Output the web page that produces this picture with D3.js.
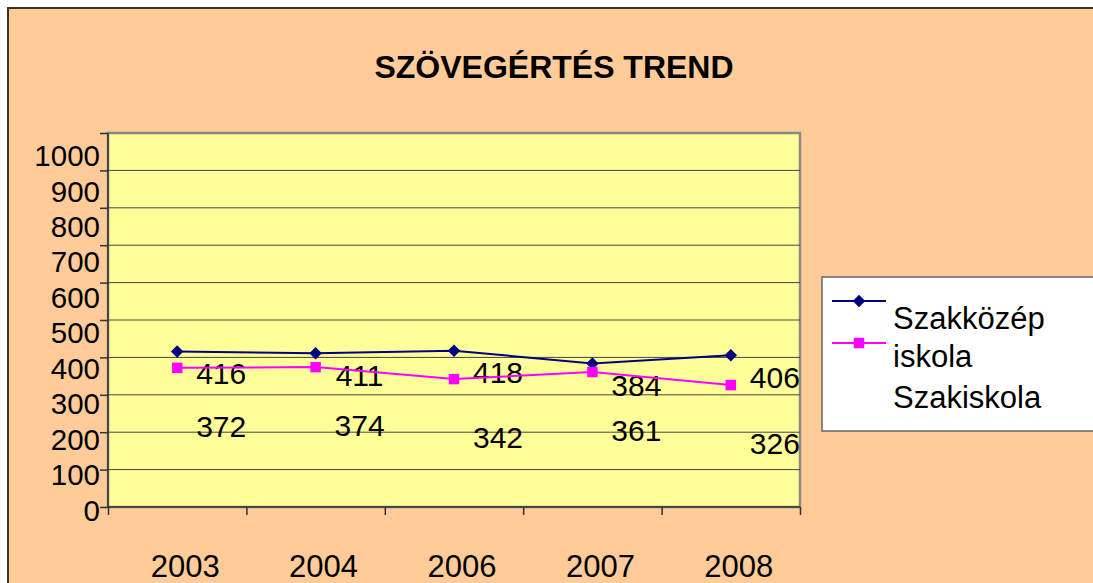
<!DOCTYPE html>
<html lang="hu">
<head>
<meta charset="UTF-8">
<title>Szövegértés trend</title>
<script src="https://d3js.org/d3.v7.min.js"></script>
<style>
  body { margin: 0; background: #fff; }
  text { font-family: "Liberation Sans", Arial, sans-serif; fill: #000; }
</style>
</head>
<body>
<svg width="1093" height="583"></svg>
<script>
// chart data
const years = ["2003", "2004", "2006", "2007", "2008"];
const szakkozep = [416, 411, 418, 384, 406];
const szakiskola = [372, 374, 342, 361, 326];
const yTicks = [0, 100, 200, 300, 400, 500, 600, 700, 800, 900, 1000];
const seriesNames = ["Szakközép iskola", "Szakiskola"];

const svg = d3.select("svg");

// outer chart area (peach) with dark frame
svg.append("rect")
  .attr("x", 8).attr("y", 8)
  .attr("width", 1100).attr("height", 600)
  .attr("fill", "#FFCC99")
  .attr("stroke", "#333").attr("stroke-width", 2);

// title
svg.append("text")
  .attr("x", 554).attr("y", 78)
  .attr("text-anchor", "middle")
  .style("font-size", "32px").style("font-weight", "bold")
  .text("SZÖVEGÉRTÉS TREND");

// scales
const plot = { left: 108, right: 800, top: 133, bottom: 507 };
const x = d3.scaleBand().domain(years).range([plot.left, plot.right]);
const y = d3.scaleLinear().domain([0, 1000]).range([plot.bottom, plot.top]);
// the tick labels in the original sit a bit squeezed compared to the gridlines
const yLab = d3.scaleLinear().domain([0, 1000]).range([510, 155.5]);

// plot area
svg.append("rect")
  .attr("x", plot.left).attr("y", plot.top)
  .attr("width", plot.right - plot.left).attr("height", plot.bottom - plot.top)
  .attr("fill", "#FFFF99")
  .attr("stroke", "#888").attr("stroke-width", 2.5);

// gridlines
svg.append("g")
  .selectAll("line")
  .data(yTicks.filter(d => d > 0 && d < 1000))
  .join("line")
  .attr("x1", plot.left).attr("x2", plot.right)
  .attr("y1", d => y(d)).attr("y2", d => y(d))
  .attr("stroke", "#444").attr("stroke-width", 1);

// y axis line + tick marks
const yAxis = svg.append("g")
  .attr("transform", `translate(${plot.left},0)`)
  .call(d3.axisLeft(y).tickValues(yTicks).tickSize(8).tickFormat(""));
yAxis.selectAll("path, line").attr("stroke", "#333").attr("stroke-width", 1.5);
yAxis.select(".domain").attr("d", `M0,${plot.top}V${plot.bottom}`);

// y tick labels
svg.append("g")
  .selectAll("text")
  .data(yTicks)
  .join("text")
  .attr("x", 100)
  .attr("y", d => yLab(d))
  .attr("dy", "0.36em")
  .attr("text-anchor", "end")
  .style("font-size", "29.5px")
  .text(d => d);

// x axis with ticks on band edges
const xEdges = d3.scaleLinear().domain([0, years.length]).range([plot.left, plot.right]);
const xAxis = svg.append("g")
  .attr("transform", `translate(0,${plot.bottom})`)
  .call(d3.axisBottom(xEdges).tickValues(d3.range(years.length + 1)).tickSize(8).tickFormat(""));
xAxis.selectAll("path, line").attr("stroke", "#333").attr("stroke-width", 1.5);
xAxis.select(".domain").attr("d", `M${plot.left},0H${plot.right}`);

svg.append("g")
  .selectAll("text")
  .data(years)
  .join("text")
  .attr("x", d => x(d) + x.bandwidth() / 2 + 8)
  .attr("y", 577)
  .attr("text-anchor", "middle")
  .style("font-size", "31px")
  .text(d => d);

// series (diamond = square turned 45deg, like Excel's marker)
const series = [
  { name: seriesNames[0], values: szakkozep, color: "#000080", size: 78, rot: 45, labelDy: 22 },
  { name: seriesNames[1], values: szakiskola, color: "#FF00FF", size: 110, rot: 0, labelDy: 58 }
];
const cx = i => x(years[i]) + x.bandwidth() / 2;

const line = d3.line().x((d, i) => cx(i)).y(d => y(d));

series.forEach(s => {
  svg.append("path")
    .datum(s.values)
    .attr("d", line)
    .attr("fill", "none")
    .attr("stroke", s.color).attr("stroke-width", 2);

  svg.append("g")
    .selectAll("path")
    .data(s.values)
    .join("path")
    .attr("transform", (d, i) => `translate(${cx(i)},${y(d)}) rotate(${s.rot})`)
    .attr("d", d3.symbol().type(d3.symbolSquare).size(s.size))
    .attr("fill", s.color);

  // data labels sit right and below the points, like in the original
  svg.append("g")
    .selectAll("text")
    .data(s.values)
    .join("text")
    .attr("x", (d, i) => cx(i) + 44)
    .attr("y", d => y(d) + s.labelDy)
    .attr("dy", "0.36em")
    .attr("text-anchor", "middle")
    .style("font-size", "30px")
    .text(d => d);
});

// legend
svg.append("rect")
  .attr("x", 822).attr("y", 277)
  .attr("width", 300).attr("height", 154)
  .attr("fill", "#fff")
  .attr("stroke", "#666").attr("stroke-width", 1.5);

const legendRows = [301, 343];
series.forEach((s, i) => {
  svg.append("line")
    .attr("x1", 832).attr("x2", 886)
    .attr("y1", legendRows[i]).attr("y2", legendRows[i])
    .attr("stroke", s.color).attr("stroke-width", 2);
  svg.append("path")
    .attr("transform", `translate(859,${legendRows[i]}) rotate(${s.rot})`)
    .attr("d", d3.symbol().type(d3.symbolSquare).size(s.size))
    .attr("fill", s.color);
});

// legend text wraps like in the original: "Szakközép / iskola / Szakiskola"
const legendLines = seriesNames[0].split(" ").concat([seriesNames[1]]);
svg.append("g")
  .selectAll("text")
  .data(legendLines)
  .join("text")
  .attr("x", 893)
  .attr("y", (d, i) => [329, 367, 408][i])
  .style("font-size", "31px")
  .text(d => d);
</script>
</body>
</html>
